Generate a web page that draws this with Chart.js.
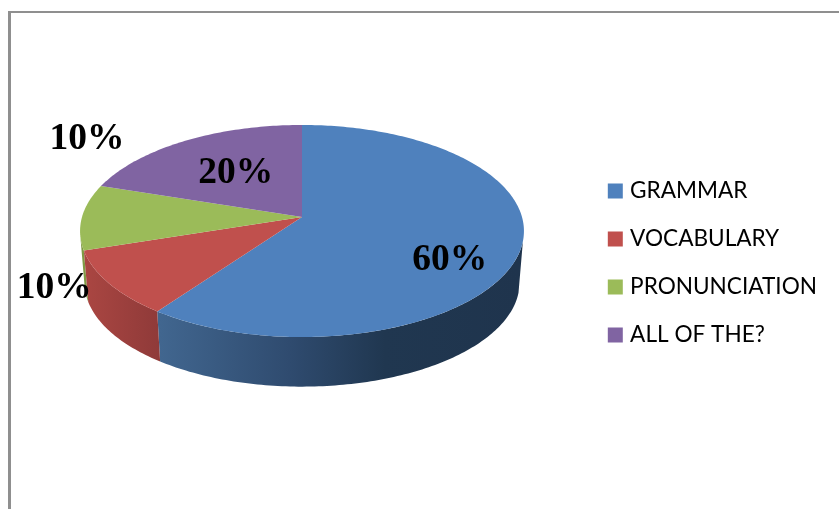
<!DOCTYPE html>
<html>
<head>
<meta charset="utf-8">
<title>Pie</title>
<script src="https://cdn.jsdelivr.net/npm/chart.js@4/dist/chart.umd.min.js"></script>
<style>
  html, body { margin: 0; padding: 0; background: #fff; overflow: hidden; }
  #wrap { position: relative; width: 839px; height: 509px; }
  #frame { position: absolute; left: 8px; top: 11px; right: 0; bottom: 0;
           border-top: 2px solid #8f8f8f; border-left: 3px solid #8f8f8f; }
  canvas { position: absolute; left: 0; top: 0; }
</style>
</head>
<body>
<div id="wrap">
  <div id="frame"></div>
  <canvas id="myPie" width="839" height="509"></canvas>
</div>
<script>
const categories = ["GRAMMAR", "VOCABULARY", "PRONUNCIATION", "ALL OF THE?"];
const percents = [60, 10, 10, 20];
const sliceColors = ["#4f81bd", "#c0504d", "#9bbb59", "#8064a2"];

// tilted disc: apex on screen, scales and perspective of the old office 3d pie
const view = { x: 302, y: 217, sx: 220, sy: 104.2, k: -0.132, depth: 52, rimShrink: 0.98 };

// where each % label sits relative to the middle of its slice
const labelShift = [[-3, 20], [-116, 26], [-61, -78], [18, 11]];

function project(theta, f, rim) {
  let X = Math.sin(theta) * f, Y = -Math.cos(theta) * f;
  let d = 1 + view.k * Y, m = rim ? view.rimShrink : 1;
  return { x: view.x + X * view.sx * m / d, y: view.y + Y * view.sy * m / d + (rim ? view.depth : 0) };
}

function traceRim(ctx, from, to, rim) {
  let n = Math.max(2, Math.ceil(Math.abs(to - from) * 60));
  for (let i = 0; i <= n; i++) {
    let p = project(from + (to - from) * i / n, 1, rim);
    ctx.lineTo(p.x, p.y);
  }
}

const sideStops = [
  [[160, "#41668f"], [290, "#2f4b6f"], [385, "#203750"], [520, "#1f344d"]],
  [[85, "#aa4642"], [160, "#8f3a39"]],
  [[80, "#7f9a45"], [90, "#7f9a45"]],
  null
];

const pie3d = {
  id: 'pie3d',
  beforeDatasetsDraw(chart) {
    const ctx = chart.ctx;
    const arcs = chart.getDatasetMeta(0).data;
    const toTheta = a => a + Math.PI / 2;
    const sideFrom = 103 * Math.PI / 180, sideTo = 260 * Math.PI / 180;

    // sides first, green before red so the red edge stays clean
    [0, 2, 1].forEach(i => {
      let a0 = Math.max(toTheta(arcs[i].startAngle), sideFrom);
      let a1 = Math.min(toTheta(arcs[i].endAngle), sideTo);
      if (a1 <= a0) return;
      let stops = sideStops[i];
      let g = ctx.createLinearGradient(stops[0][0], 0, stops[stops.length - 1][0], 0);
      stops.forEach(s => g.addColorStop((s[0] - stops[0][0]) / (stops[stops.length - 1][0] - stops[0][0]), s[1]));
      ctx.beginPath();
      traceRim(ctx, a0, a1, false);
      traceRim(ctx, a1, a0, true);
      ctx.closePath();
      ctx.fillStyle = g;
      ctx.fill();
    });

    // top face
    arcs.forEach((arc, i) => {
      ctx.beginPath();
      ctx.moveTo(view.x, view.y);
      traceRim(ctx, toTheta(arc.startAngle), toTheta(arc.endAngle), false);
      ctx.closePath();
      ctx.fillStyle = sliceColors[i];
      ctx.fill();
    });

    // labels
    ctx.font = "bold 37.5px 'Liberation Serif'";
    ctx.fillStyle = "#000";
    ctx.textAlign = "center";
    ctx.textBaseline = "middle";
    arcs.forEach((arc, i) => {
      let p = project(toTheta((arc.startAngle + arc.endAngle) / 2), 0.7, false);
      ctx.fillText(percents[i] + "%", p.x + labelShift[i][0], p.y + labelShift[i][1]);
    });
    return false;
  }
};

new Chart(document.getElementById("myPie").getContext("2d"), {
  type: "pie",
  data: {
    labels: categories,
    datasets: [{
      data: percents,
      backgroundColor: sliceColors,
      borderWidth: 0
    }]
  },
  options: {
    responsive: false,
    animation: false,
    layout: { padding: { top: 17, right: 12 } },
    plugins: {
      tooltip: { enabled: false },
      legend: {
        position: "right",
        labels: {
          // small box + thick same colour stroke, brings the text closer to the swatch
          boxWidth: 7,
          boxHeight: 7,
          padding: 25.4,
          color: "#111",
          font: { family: "Lato", size: 22.6 },
          generateLabels(chart) {
            return categories.map((c, i) => ({
              text: c,
              fillStyle: sliceColors[i],
              strokeStyle: sliceColors[i],
              lineWidth: 8,
              index: i
            }));
          }
        }
      }
    }
  },
  plugins: [pie3d]
});
</script>
</body>
</html>
